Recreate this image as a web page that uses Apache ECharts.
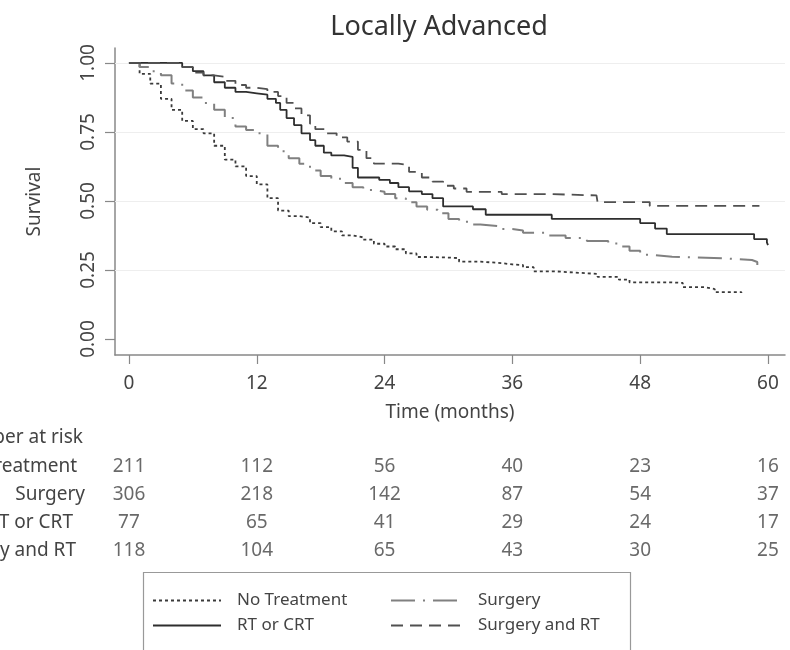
<!DOCTYPE html>
<html><head><meta charset="utf-8">
<script src="https://cdn.jsdelivr.net/npm/echarts@6/dist/echarts.min.js"></script>
<style>html,body{margin:0;padding:0;background:#fff}#c{width:790px;height:650px}</style>
</head><body><div id="c"></div>
<script>
// ---- data ----
const xTicks = [0, 12, 24, 36, 48, 60];
const yTicks = [0, 0.25, 0.5, 0.75, 1];
const gridValues = [0.25, 0.5, 0.75, 1];
const seriesNames = ['No Treatment', 'Surgery', 'RT or CRT', 'Surgery and RT'];

const noTreatmentT = [0,1,2,3,4,5,6,7,8,9,10,11,12,13,14,15,16,17,18,19,20,21,22,23,24,25,26,27,28,30,31,33,35,36,37,38,40,43,44,46,47,51,52,54,55,57.5];
const noTreatmentS = [1,0.96,0.925,0.87,0.83,0.79,0.76,0.745,0.70,0.65,0.625,0.59,0.56,0.51,0.465,0.445,0.44,0.42,0.405,0.39,0.375,0.368,0.36,0.345,0.335,0.325,0.31,0.297,0.295,0.293,0.28,0.275,0.27,0.268,0.26,0.245,0.238,0.236,0.225,0.215,0.205,0.203,0.188,0.181,0.17,0.167];

const surgeryT = [0,1,2,3,4,5,6,7,8,9,10,11,12,13,14,15,16,17,18,19,20,21,22,23,24,25,26,27,28,29,30,31,32,33,35,36,37,39,41,43,45,46,47,48,49,51,56,58.5,59];
const surgeryS = [1,0.985,0.97,0.955,0.925,0.90,0.875,0.855,0.83,0.80,0.77,0.757,0.745,0.70,0.68,0.655,0.635,0.61,0.59,0.58,0.565,0.55,0.54,0.533,0.525,0.51,0.495,0.48,0.468,0.455,0.435,0.425,0.415,0.408,0.398,0.393,0.385,0.375,0.366,0.355,0.346,0.335,0.32,0.305,0.298,0.292,0.286,0.279,0.268];

const rtT = [0,4,5,6,7,8,9,10,11,12,13,13.8,14.2,14.8,15.5,16.2,17,17.5,18.3,19,20.2,21,21.5,23.5,24.5,25.3,26.3,27.5,28.5,29.5,32.3,33.5,39.7,48,49.4,50.5,58.7,59.9,60];
const rtS = [1,1,0.985,0.97,0.955,0.93,0.91,0.895,0.89,0.885,0.87,0.855,0.83,0.80,0.775,0.745,0.72,0.70,0.675,0.665,0.66,0.62,0.585,0.576,0.565,0.55,0.535,0.525,0.51,0.48,0.47,0.45,0.435,0.42,0.40,0.38,0.362,0.35,0.34];

const surgRtT = [0,4,5,6,7,8,9,10,11,12,13,14,14.8,15.5,16.2,17,17.5,18.5,19.5,20.5,21.5,22.3,23,25.3,26.3,27.5,28.5,29.5,30.5,31.7,35,39.5,43.9,44,48.5,48.9,59.2];
const surgRtS = [1,1,0.985,0.965,0.955,0.95,0.935,0.92,0.91,0.905,0.895,0.88,0.855,0.835,0.81,0.78,0.76,0.745,0.73,0.715,0.685,0.655,0.635,0.63,0.605,0.585,0.57,0.555,0.545,0.533,0.525,0.52,0.514,0.496,0.496,0.482,0.482];

const riskTimes = [0, 12, 24, 36, 48, 60];
const riskRows = ['No Treatment', 'Surgery', 'RT or CRT', 'Surgery and RT'];
const riskNoTreatment = [211, 112, 56, 40, 23, 16];
const riskSurgery = [306, 218, 142, 87, 54, 37];
const riskRT = [77, 65, 41, 29, 24, 17];
const riskSurgeryRT = [118, 104, 65, 43, 30, 25];

// ---- build ----
const pairs = (t, s) => t.map((v, i) => [v, s[i]]);
const riskData = [];
[riskNoTreatment, riskSurgery, riskRT, riskSurgeryRT].forEach((row, r) => {
  row.forEach((n, i) => riskData.push([riskTimes[i], r, n]));
});

const FONT = 'Noto Sans';
const TXT = '#444';
const XMIN = -1.31, XMAX = 61.6;

const chart = echarts.init(document.getElementById('c'), null, {renderer: 'canvas'});
const lineSeries = (name, data, color, type, width) => ({
  name, type: 'line', step: 'end', data, showSymbol: false, symbol: 'none',
  xAxisIndex: 0, yAxisIndex: 0, animation: false, silent: true,
  lineStyle: {color, width, type},
  itemStyle: {color},
  z: 5
});

const legendBase = {
  orient: 'vertical', itemGap: 8, itemHeight: 20, padding: 0, top: 592,
  selectedMode: false,
  itemStyle: {color: 'rgba(0,0,0,0)', borderWidth: 0, opacity: 0}
};

const option = {
  animation: false,
  backgroundColor: '#fff',
  title: {
    text: 'Locally Advanced', left: 434, top: 9, textAlign: 'center',
    textStyle: {fontFamily: FONT, fontSize: 27, fontWeight: 'normal', color: '#333'}
  },
  grid: [
    {left: 115, right: 5, top: 48, height: 307, outerBoundsMode: 'none', containLabel: false},
    {left: 115, right: 5, top: 453, height: 111, outerBoundsMode: 'none', containLabel: false}
  ],
  xAxis: [
    {
      type: 'value', gridIndex: 0, min: XMIN, max: XMAX,
      name: 'Time (months)', nameLocation: 'middle', nameGap: 48,
      nameTextStyle: {fontFamily: FONT, fontSize: 19, color: TXT},
      axisLine: {show: true, onZero: false, lineStyle: {color: '#888', width: 1.5}},
      axisTick: {show: true, length: 9, lineStyle: {color: '#888', width: 1.2}, customValues: xTicks},
      axisLabel: {fontFamily: FONT, fontSize: 19, color: TXT, margin: 19, customValues: xTicks},
      splitLine: {show: false}
    },
    {
      type: 'value', gridIndex: 1, min: XMIN, max: XMAX, show: false
    }
  ],
  yAxis: [
    {
      type: 'value', gridIndex: 0, min: -0.058, max: 1.054,
      name: 'Survival', nameLocation: 'middle', nameGap: 71, nameRotate: 90,
      nameTextStyle: {fontFamily: FONT, fontSize: 19, color: TXT},
      axisLine: {show: true, onZero: false, lineStyle: {color: '#888', width: 1.5}},
      axisTick: {show: true, length: 10, lineStyle: {color: '#888', width: 1.2}, customValues: yTicks},
      axisLabel: {fontFamily: FONT, fontSize: 19, color: TXT, rotate: 90, margin: 17,
        customValues: yTicks, formatter: v => v.toFixed(2)},
      splitLine: {show: false}
    },
    {
      type: 'category', gridIndex: 1, data: riskRows, inverse: true,
      axisLine: {show: false}, axisTick: {show: false}, splitLine: {show: false},
      axisLabel: {
        fontFamily: FONT, fontSize: 19, color: TXT, margin: 30,
        formatter: (v, i) => '{r' + i + '|' + v + '}',
        rich: {
          r0: {fontFamily: FONT, fontSize: 19, color: TXT, padding: [0, 8, 0, 0]},
          r1: {fontFamily: FONT, fontSize: 19, color: TXT, padding: [0, 0, 0, 0]},
          r2: {fontFamily: FONT, fontSize: 19, color: TXT, padding: [0, 12, 0, 0]},
          r3: {fontFamily: FONT, fontSize: 19, color: TXT, padding: [0, 9, 0, 0]}
        }
      }
    }
  ],
  legend: [
    Object.assign({}, legendBase, {
      left: 152, itemWidth: 68,
      data: ['No Treatment', 'RT or CRT'],
      textStyle: {fontFamily: FONT, fontSize: 17, color: TXT, padding: [0, 0, 0, 11]}
    }),
    Object.assign({}, legendBase, {
      left: 390, itemWidth: 72,
      data: ['Surgery', 'Surgery and RT'],
      textStyle: {fontFamily: FONT, fontSize: 17, color: TXT, padding: [0, 0, 0, 10]}
    })
  ],
  graphic: [
    {type: 'rect', shape: {x: 143.5, y: 572.5, width: 487, height: 90}, silent: true,
      style: {fill: 'none', stroke: '#999', lineWidth: 1.2}},
    {type: 'text', x: 83, y: 438, silent: true,
      style: {text: 'Number at risk', fontFamily: FONT, fontSize: 19, fill: TXT, align: 'right', verticalAlign: 'middle'}}
  ],
  series: [
    Object.assign(lineSeries(seriesNames[0], pairs(noTreatmentT, noTreatmentS), '#3a3a3a', [3, 3], 1.8), {
      markLine: {
        silent: true, symbol: 'none', animation: false, label: {show: false},
        lineStyle: {color: '#eeeeee', width: 1, type: 'solid'},
        data: gridValues.map(v => ({yAxis: v}))
      }
    }),
    lineSeries(seriesNames[1], pairs(surgeryT, surgeryS), '#808080', [24, 8, 2, 8], 2),
    lineSeries(seriesNames[2], pairs(rtT, rtS), '#2e2e2e', 'solid', 1.8),
    lineSeries(seriesNames[3], pairs(surgRtT, surgRtS), '#505050', [12, 7], 1.8),
    {
      name: 'risk', type: 'scatter', xAxisIndex: 1, yAxisIndex: 1, symbolSize: 0,
      data: riskData, silent: true, animation: false,
      label: {show: true, position: 'inside', formatter: p => String(p.value[2]),
        fontFamily: FONT, fontSize: 19, color: TXT}
    }
  ]
};
chart.setOption(option);
</script>
</body></html>
